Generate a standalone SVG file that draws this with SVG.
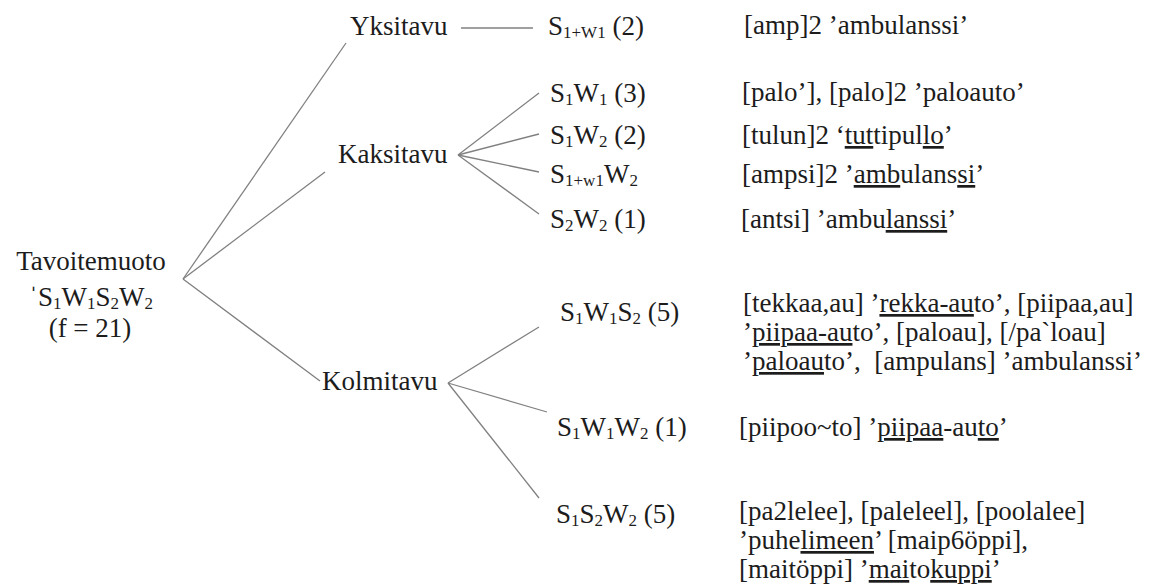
<svg xmlns="http://www.w3.org/2000/svg" width="1150" height="587" viewBox="0 0 1150 587">
<style>
text{font-family:"Liberation Serif","DejaVu Serif","Times New Roman",serif;font-size:27px;fill:#1c1c1c}
.s{font-size:17px}
.u{text-decoration:underline}
.c line{stroke:#808080;stroke-width:1.3;fill:none}
</style>
<rect width="1150" height="587" fill="#ffffff"/>
<g id="connectors" class="c">
<line x1="183" y1="279" x2="346" y2="43"/>
<line x1="183" y1="279" x2="325" y2="172"/>
<line x1="183" y1="279" x2="320" y2="381"/>
<line x1="461" y1="28" x2="533" y2="28"/>
<line x1="458" y1="155" x2="539" y2="93"/>
<line x1="458" y1="155" x2="539" y2="134"/>
<line x1="458" y1="155" x2="539" y2="172"/>
<line x1="458" y1="155" x2="539" y2="214"/>
<line x1="448" y1="383" x2="539" y2="327"/>
<line x1="448" y1="383" x2="547" y2="412"/>
<line x1="448" y1="383" x2="539" y2="498"/>
</g>
<g id="root">
<text x="91" y="270" text-anchor="middle">Tavoitemuoto</text>
<text x="91" y="306" text-anchor="middle"><tspan>ˈ</tspan>S<tspan class="s" dy="3">1</tspan><tspan dy="-3">W</tspan><tspan class="s" dy="3">1</tspan><tspan dy="-3">S</tspan><tspan class="s" dy="3">2</tspan><tspan dy="-3">W</tspan><tspan class="s" dy="3">2</tspan></text>
<text x="90" y="337" text-anchor="middle">(f = 21)</text>
</g>
<g id="yksitavu"><text x="350" y="35">Yksitavu</text></g>
<g id="kaksitavu"><text x="338" y="163">Kaksitavu</text></g>
<g id="kolmitavu"><text x="322" y="390">Kolmitavu</text></g>
<g id="leaf-s1w1-plus">
<text x="548" y="35">S<tspan class="s" dy="3">1+W1</tspan><tspan dy="-3"> (2)</tspan></text>
<text x="744" y="34">[amp]2 ’ambulanssi’</text>
</g>
<g id="leaf-s1w1">
<text x="550" y="102">S<tspan class="s" dy="3">1</tspan><tspan dy="-3">W</tspan><tspan class="s" dy="3">1</tspan><tspan dy="-3"> (3)</tspan></text>
<text x="742" y="101">[palo’], [palo]2 ’paloauto’</text>
</g>
<g id="leaf-s1w2">
<text x="550" y="144">S<tspan class="s" dy="3">1</tspan><tspan dy="-3">W</tspan><tspan class="s" dy="3">2</tspan><tspan dy="-3"> (2)</tspan></text>
<text x="742" y="144">[tulun]2 ‘<tspan class="u">tut</tspan>tipul<tspan class="u">lo</tspan>’</text>
</g>
<g id="leaf-s1w1w2">
<text x="550" y="183">S<tspan class="s" dy="3">1+w1</tspan><tspan dy="-3">W</tspan><tspan class="s" dy="3">2</tspan></text>
<text x="742" y="183">[ampsi]2 ’<tspan class="u">amb</tspan>ulans<tspan class="u">si</tspan>’</text>
</g>
<g id="leaf-s2w2">
<text x="550" y="228">S<tspan class="s" dy="3">2</tspan><tspan dy="-3">W</tspan><tspan class="s" dy="3">2</tspan><tspan dy="-3"> (1)</tspan></text>
<text x="741" y="228">[antsi] ’ambu<tspan class="u">lanssi</tspan>’</text>
</g>
<g id="leaf-s1w1s2">
<text x="560" y="321">S<tspan class="s" dy="3">1</tspan><tspan dy="-3">W</tspan><tspan class="s" dy="3">1</tspan><tspan dy="-3">S</tspan><tspan class="s" dy="3">2</tspan><tspan dy="-3"> (5)</tspan></text>
<text x="743" y="312">[tekkaa,au] ’<tspan class="u">rekka-au</tspan>to’, [piipaa,au]</text>
<text x="743" y="341">’<tspan class="u">piipaa-au</tspan>to’, [paloau], [/pa`loau]</text>
<text x="743" y="370">’<tspan class="u">paloau</tspan>to’,&#160; [ampulans] ’ambulanssi’</text>
</g>
<g id="leaf-s1w1w2b">
<text x="557" y="436">S<tspan class="s" dy="3">1</tspan><tspan dy="-3">W</tspan><tspan class="s" dy="3">1</tspan><tspan dy="-3">W</tspan><tspan class="s" dy="3">2</tspan><tspan dy="-3"> (1)</tspan></text>
<text x="739" y="436">[piipoo~to] ’<tspan class="u">piipaa</tspan>-au<tspan class="u">to</tspan>’</text>
</g>
<g id="leaf-s1s2w2">
<text x="556" y="523">S<tspan class="s" dy="3">1</tspan><tspan dy="-3">S</tspan><tspan class="s" dy="3">2</tspan><tspan dy="-3">W</tspan><tspan class="s" dy="3">2</tspan><tspan dy="-3"> (5)</tspan></text>
<text x="739" y="520">[pa2lelee], [paleleel], [poolalee]</text>
<text x="739" y="549">’puhe<tspan class="u">limeen</tspan>’ [maip6öppi],</text>
<text x="739" y="578">[maitöppi] ’<tspan class="u">mai</tspan>to<tspan class="u">kuppi</tspan>’</text>
</g>
</svg>
